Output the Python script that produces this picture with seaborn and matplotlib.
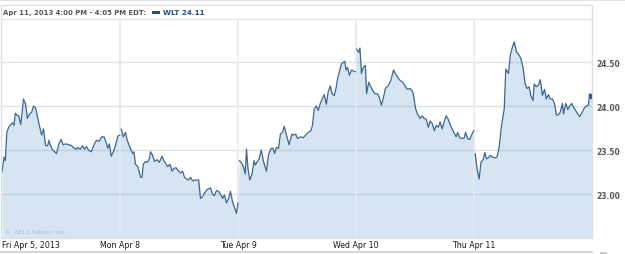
import numpy as np
import pandas as pd
import matplotlib
matplotlib.use("Agg")
import matplotlib.pyplot as plt
import seaborn as sns
from matplotlib.patches import Rectangle
from matplotlib.lines import Line2D

# ---------------- data (minutes since 9:30 open, price) ----------------
day_labels = ["Fri Apr 5, 2013", "Mon Apr 8", "Tue Apr 9", "Wed Apr 10", "Thu Apr 11"]

fri_min = [0, 7, 11, 16, 22, 29, 35, 40, 44, 51, 55, 62, 71, 78, 84, 91, 98, 104, 111, 117,
           126, 131, 137, 144, 151, 155, 160, 168, 180, 188, 195, 202, 211, 222, 230, 239, 246, 250, 259, 266,
           273, 279, 286, 295, 304, 312, 321, 330, 337, 343, 350, 355, 361, 368, 375, 383, 390]
fri_px = [23.25, 23.42, 23.38, 23.70, 23.76, 23.79, 23.81, 23.78, 23.92, 23.89,
          23.89, 23.79, 24.08, 24.02, 23.86, 23.91, 23.93, 24.00, 23.98, 23.88,
          23.74, 23.67, 23.74, 23.55, 23.55, 23.61, 23.55, 23.50, 23.46, 23.57,
          23.62, 23.56, 23.57, 23.56, 23.55, 23.52, 23.51, 23.53, 23.51, 23.55,
          23.51, 23.54, 23.50, 23.48, 23.56, 23.61, 23.60, 23.65, 23.65, 23.60,
          23.52, 23.57, 23.43, 23.48, 23.55, 23.66, 23.67]

mon_min = [4, 11, 18, 24, 33, 42, 46, 51, 59, 68, 73, 77, 84, 90, 97, 101, 108, 114, 123, 130,
           139, 145, 152, 158, 165, 172, 178, 185, 191, 200, 207, 213, 220, 227, 233, 240, 251, 260, 266, 273,
           279, 288, 299, 306, 312, 319, 326, 332, 339, 345, 352, 359, 365, 372, 378, 385, 390]
mon_px = [23.74, 23.65, 23.70, 23.61, 23.53, 23.46, 23.48, 23.34, 23.31, 23.19,
          23.19, 23.34, 23.37, 23.36, 23.40, 23.48, 23.44, 23.37, 23.39, 23.36,
          23.43, 23.38, 23.34, 23.31, 23.34, 23.26, 23.29, 23.30, 23.27, 23.24,
          23.26, 23.19, 23.17, 23.16, 23.19, 23.15, 23.16, 23.16, 22.95, 22.97,
          23.01, 23.05, 23.07, 23.00, 22.98, 23.04, 23.03, 23.00, 22.95, 22.99,
          22.90, 22.95, 23.03, 22.91, 22.85, 22.78, 22.90]

tue_min = [4, 11, 18, 24, 28, 33, 39, 46, 53, 57, 64, 70, 77, 85, 94, 101, 110, 116, 121, 127,
           134, 140, 147, 153, 160, 169, 178, 184, 191, 197, 206, 215, 224, 232, 241, 246, 252, 259, 265, 272,
           278, 285, 292, 298, 305, 311, 318, 324, 329, 335, 342, 349, 353, 357, 362, 368, 375, 381, 388]
tue_px = [23.38, 23.36, 23.31, 23.23, 23.51, 23.29, 23.16, 23.22, 23.38, 23.33,
          23.37, 23.40, 23.50, 23.36, 23.26, 23.45, 23.52, 23.52, 23.46, 23.53,
          23.52, 23.68, 23.70, 23.77, 23.67, 23.56, 23.68, 23.67, 23.68, 23.63,
          23.65, 23.64, 23.67, 23.70, 23.72, 23.78, 23.97, 24.00, 23.95, 24.03,
          24.08, 24.13, 24.02, 24.16, 24.23, 24.14, 24.12, 24.20, 24.31, 24.39,
          24.48, 24.50, 24.51, 24.41, 24.44, 24.35, 24.41, 24.40, 24.39]

wed_min = [2, 9, 13, 18, 24, 31, 35, 42, 49, 55, 62, 71, 77, 84, 91, 97, 106, 115, 124, 130,
           137, 146, 155, 164, 170, 179, 188, 197, 203, 212, 219, 225, 232, 239, 245, 252, 259, 265, 272, 278,
           285, 292, 298, 305, 312, 318, 325, 331, 336, 343, 351, 358, 362, 369, 376, 382, 389]
wed_px = [24.65, 24.61, 24.66, 24.37, 24.44, 24.46, 24.14, 24.27, 24.22, 24.18,
          24.14, 24.14, 24.10, 24.01, 24.10, 24.20, 24.23, 24.29, 24.41, 24.37,
          24.33, 24.29, 24.27, 24.22, 24.19, 24.20, 24.16, 23.97, 23.91, 23.86,
          23.89, 23.86, 23.85, 23.76, 23.83, 23.80, 23.72, 23.78, 23.76, 23.82,
          23.74, 23.83, 23.89, 23.85, 23.78, 23.74, 23.69, 23.65, 23.70, 23.64,
          23.63, 23.64, 23.70, 23.63, 23.62, 23.67, 23.72]

thu_min = [4, 10, 17, 23, 30, 36, 41, 47, 54, 61, 69, 76, 83, 91, 100, 105, 114, 120, 127, 133,
           140, 149, 155, 162, 169, 175, 182, 188, 195, 199, 206, 213, 219, 226, 233, 239, 246, 252, 259, 266,
           272, 279, 285, 292, 296, 303, 310, 316, 323, 330, 336, 343, 349, 358, 365, 371, 378, 382, 389]
thu_px = [23.46, 23.29, 23.17, 23.36, 23.39, 23.47, 23.40, 23.41, 23.44, 23.42,
          23.41, 23.42, 23.53, 23.78, 23.97, 24.42, 24.37, 24.58, 24.67, 24.73,
          24.62, 24.58, 24.54, 24.44, 24.25, 24.20, 24.22, 24.12, 24.06, 24.25,
          24.22, 24.24, 24.30, 24.12, 24.19, 24.08, 24.13, 24.08, 24.08, 24.03,
          23.90, 23.90, 23.93, 24.03, 23.91, 24.03, 23.96, 24.00, 24.03, 23.98,
          23.95, 23.91, 23.88, 23.93, 23.98, 24.00, 24.01, 24.14, 24.11]

y_ticks = [23.0, 23.5, 24.0, 24.5]
y_tick_labels = ["23.00", "23.50", "24.00", "24.50"]
header_text = "Apr 11, 2013 4:00 PM - 4:05 PM EDT:"
legend_text = "WLT 24.11"
copyright_text = "\u00a9 2013 Yahoo! Inc."

SESSION_MIN = 390

# ---------------- build table ----------------
sessions = [(fri_min, fri_px), (mon_min, mon_px), (tue_min, tue_px),
            (wed_min, wed_px), (thu_min, thu_px)]
rows = []
for d, (mins, prices) in enumerate(sessions):
    for m, p in zip(mins, prices):
        rows.append({"session": d, "pos": d + m / SESSION_MIN, "price": p})
df = pd.DataFrame(rows)

# ---------------- style ----------------
sns.set_theme(style="white")
plt.rcParams["font.family"] = ["DejaVu Sans"]

LINE = "#3b6694"
FILL = "#d6e5f1"
W, H = 625, 255
YMIN, YMAX = 22.5, 24.99

fig = plt.figure(figsize=(W / 100, H / 100), dpi=100)
fig.patch.set_facecolor("white")
ax = fig.add_axes([2 / W, (H - 239) / H, 590 / W, 219 / H])
ax.set_facecolor("white")

ax.fill_between(df["pos"], df["price"], YMIN, color=FILL, lw=0, zorder=1)

for yv in y_ticks:
    ax.axhline(yv, color="#7f97b0", alpha=0.28, lw=1.0, zorder=1.5)
for d in range(1, len(day_labels)):
    ax.axvline(d, color="#e4eaf0", lw=1.2, zorder=1.6)

sns.lineplot(data=df, x="pos", y="price", units="session", estimator=None,
             color=LINE, lw=0.9, ax=ax, legend=False, zorder=3)
ax.plot(df["pos"].iloc[-1], df["price"].iloc[-1], marker="s", ms=2.6,
        color="#1f4e8c", zorder=4)

ax.set_xlim(0, len(day_labels))
ax.set_ylim(YMIN, YMAX)
for s in ax.spines.values():
    s.set_visible(False)

ax.yaxis.tick_right()
ax.set_yticks(y_ticks)
ax.set_yticklabels(y_tick_labels, fontsize=5.5, fontweight="bold", color="#555555")
ax.tick_params(axis="y", length=0, pad=3)

ax.set_xticks(range(len(day_labels)))
ax.set_xticklabels(day_labels, fontsize=5.7, color="#1a1a1a")
ax.get_xticklabels()[0].set_horizontalalignment("left")
ax.tick_params(axis="x", length=0, pad=1.2)
ax.set_xlabel("")
ax.set_ylabel("")

# ---------------- frame, header ----------------
tf = fig.transFigure
fig.add_artist(Line2D([0, 1], [1 - 1 / H] * 2, color="#e2e2e2", lw=1.5, transform=tf))
fig.add_artist(Rectangle((1 / W, (H - 239) / H), 591 / W, 233 / H, fill=False,
                         edgecolor="#d9e0e7", lw=1.0, transform=tf))
fig.add_artist(Line2D([1 / W, 592 / W], [1 - 20 / H] * 2, color="#e0e7ee", lw=1.0, transform=tf))
fig.add_artist(Line2D([0, 592 / W], [1 - 253 / H] * 2, color="#d5d5d5", lw=1.5, transform=tf))
fig.add_artist(Rectangle((600 / W, 0), 7 / W, 2.5 / H, color="#c8c8c8", lw=0, transform=tf))

fig.text(3 / W, 1 - 13 / H, header_text, fontsize=4.95, fontweight="bold",
         color="#555555", va="center", ha="left")
fig.add_artist(Rectangle((152 / W, 1 - 14.5 / H), 8 / W, 3 / H, color="#1f4e8c",
                         lw=0, transform=tf))
fig.text(163 / W, 1 - 13 / H, legend_text, fontsize=5.2, fontweight="bold",
         color="#1f4e8c", va="center", ha="left")
fig.text(5 / W, 1 - 233 / H, copyright_text, fontsize=4.6, color="#a9bdd0",
         va="center", ha="left")

fig.savefig("out.png", dpi=100, facecolor="white")
